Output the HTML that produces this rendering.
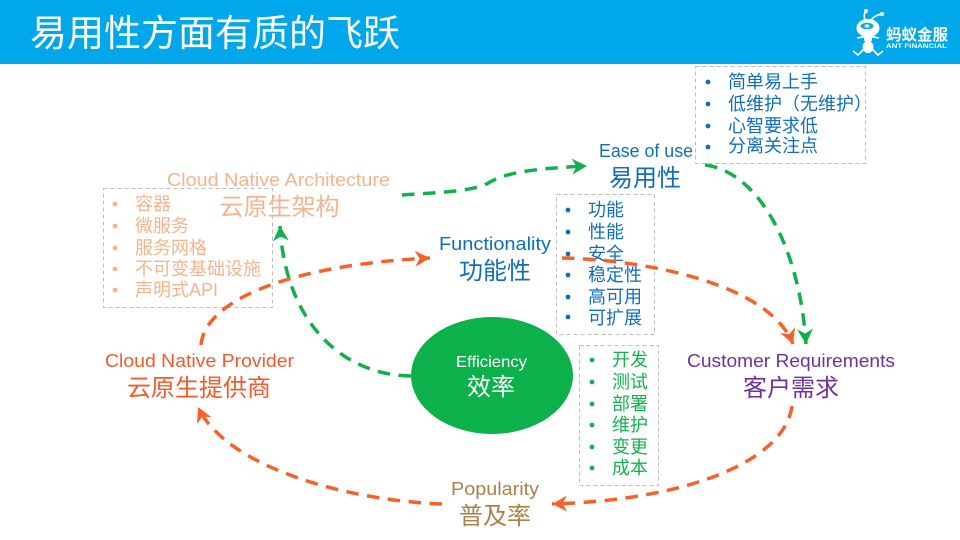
<!DOCTYPE html>
<html lang="zh">
<head>
<meta charset="utf-8">
<style>
html,body{margin:0;padding:0;background:#fff;width:960px;height:540px;overflow:hidden}
svg{display:block}
text{font-family:"Liberation Sans","Noto Sans CJK SC",sans-serif}
.cn{font-size:24px;text-anchor:middle}
.li{font-size:18px}
.box{fill:none;stroke:#bdbdbd;stroke-width:1;stroke-dasharray:4 3}
.g{fill:none;stroke:#10B14B;stroke-width:3.5;stroke-dasharray:12.5 8.5}
.o{fill:none;stroke:#F8602A;stroke-width:3.5;stroke-dasharray:12.5 8.5}
</style>
</head>
<body>
<svg width="960" height="540" viewBox="0 0 960 540" xmlns="http://www.w3.org/2000/svg">
<defs>
<marker id="ag" markerUnits="userSpaceOnUse" markerWidth="22" markerHeight="22" refX="17" refY="11" orient="auto"><path d="M17 11L2 3L6.5 11L2 19Z" fill="#10B14B"/></marker>
<marker id="ao" markerUnits="userSpaceOnUse" markerWidth="22" markerHeight="22" refX="17" refY="11" orient="auto"><path d="M17 11L2 3L6.5 11L2 19Z" fill="#F8602A"/></marker>
</defs>

<rect width="960" height="64" fill="#00A7EA"/>
<text x="30" y="46" font-size="37" fill="#fff" textLength="370" lengthAdjust="spacingAndGlyphs">易用性方面有质的飞跃</text>

<g fill="#fff" stroke="none">
<ellipse cx="868" cy="28" rx="11.5" ry="9"/>
<ellipse cx="867" cy="26" rx="6.5" ry="3.2" fill="#00A7EA"/>
<ellipse cx="867" cy="26" rx="2.4" ry="1.6"/>
<ellipse cx="868" cy="39" rx="4" ry="4"/>
<ellipse cx="868" cy="47" rx="5.5" ry="6"/>
<circle cx="866" cy="11" r="2"/><circle cx="882" cy="14" r="2"/>
</g>
<g stroke="#fff" stroke-width="1.7" fill="none">
<path d="M865 20Q863 15 866 11M871 20Q875 15 882 14"/>
<path d="M857 38L868 36L879 38M864 49L858 55L853 51M872 49L878 55L883 51"/>
</g>
<text x="886" y="40" font-size="15.5" font-weight="bold" fill="#fff" textLength="62" lengthAdjust="spacingAndGlyphs">蚂蚁金服</text>
<text x="886" y="48" font-size="6.5" font-weight="bold" fill="#fff" textLength="61" lengthAdjust="spacingAndGlyphs">ANT FINANCIAL</text>

<rect class="box" x="103.5" y="188.5" width="169" height="119"/>
<rect class="box" x="695.5" y="66.5" width="170" height="97"/>
<rect class="box" x="556.5" y="194.5" width="98" height="140"/>
<rect class="box" x="579.5" y="345.5" width="79" height="140"/>

<ellipse cx="492" cy="375.5" rx="81" ry="58.5" fill="#0DB14B"/>

<g fill="#F5B48C">
<text x="167" y="186" font-size="18" textLength="223" lengthAdjust="spacingAndGlyphs">Cloud Native Architecture</text>
<text x="279.5" y="215" class="cn">云原生架构</text>
<text x="135" y="210" class="li">容器</text>
<text x="135" y="232" class="li">微服务</text>
<text x="135" y="254" class="li">服务网格</text>
<text x="135" y="275" class="li">不可变基础设施</text>
<text x="135" y="296" class="li">声明式API</text>
<circle cx="115" cy="204" r="2.4"/><circle cx="115" cy="226" r="2.4"/><circle cx="115" cy="248" r="2.4"/><circle cx="115" cy="269" r="2.4"/><circle cx="115" cy="290" r="2.4"/>
</g>

<g fill="#0F6FBE">
<text x="599" y="157" font-size="18" textLength="94" lengthAdjust="spacingAndGlyphs">Ease of use</text>
<text x="645" y="186" class="cn">易用性</text>
<text x="728" y="88" class="li">简单易上手</text>
<text x="728" y="110" class="li">低维护（无维护）</text>
<text x="728" y="132" class="li">心智要求低</text>
<text x="728" y="152" class="li">分离关注点</text>
<circle cx="708" cy="82" r="2.4"/><circle cx="708" cy="104" r="2.4"/><circle cx="708" cy="126" r="2.4"/><circle cx="708" cy="147" r="2.4"/>

<text x="439" y="250" font-size="18" textLength="112" lengthAdjust="spacingAndGlyphs">Functionality</text>
<text x="495" y="279" class="cn">功能性</text>
<text x="588" y="216" class="li">功能</text>
<text x="588" y="238" class="li">性能</text>
<text x="588" y="260" class="li">安全</text>
<text x="588" y="281" class="li">稳定性</text>
<text x="588" y="303" class="li">高可用</text>
<text x="588" y="324" class="li">可扩展</text>
<circle cx="568" cy="210" r="2.4"/><circle cx="568" cy="232" r="2.4"/><circle cx="568" cy="254" r="2.4"/><circle cx="568" cy="275" r="2.4"/><circle cx="568" cy="297" r="2.4"/><circle cx="568" cy="317" r="2.4"/>
</g>

<g fill="#14B350">
<text x="612" y="366" class="li">开发</text>
<text x="612" y="388" class="li">测试</text>
<text x="612" y="410" class="li">部署</text>
<text x="612" y="431" class="li">维护</text>
<text x="612" y="453" class="li">变更</text>
<text x="612" y="474" class="li">成本</text>
<circle cx="592" cy="360" r="2.4"/><circle cx="592" cy="382" r="2.4"/><circle cx="592" cy="404" r="2.4"/><circle cx="592" cy="425" r="2.4"/><circle cx="592" cy="447" r="2.4"/><circle cx="592" cy="468" r="2.4"/>
</g>

<text x="456" y="367" font-size="16" fill="#fff" textLength="71" lengthAdjust="spacingAndGlyphs">Efficiency</text>
<text x="491" y="395" class="cn" fill="#fff">效率</text>

<text x="687" y="367" font-size="18" fill="#7030A0" textLength="208" lengthAdjust="spacingAndGlyphs">Customer Requirements</text>
<text x="791" y="396" class="cn" fill="#7030A0">客户需求</text>

<text x="105" y="367" font-size="18" fill="#F4592A" textLength="189" lengthAdjust="spacingAndGlyphs">Cloud Native Provider</text>
<text x="199" y="396" class="cn" fill="#F4592A">云原生提供商</text>

<text x="451" y="495" font-size="18" fill="#AE8048" textLength="88" lengthAdjust="spacingAndGlyphs">Popularity</text>
<text x="495" y="524" class="cn" fill="#AE8048">普及率</text>

<path class="g" marker-end="url(#ag)" d="M402 195C430 193 465 192 485 185C500 175 520 169 587 166"/>
<path class="g" marker-end="url(#ag)" d="M705 165C760 172 800 250 806 344"/>
<path class="g" marker-end="url(#ag)" d="M411 376C340 375 285 320 280 226"/>
<path class="o" marker-end="url(#ao)" d="M201 345C205 300 290 265 430 258"/>
<path class="o" marker-end="url(#ao)" d="M562 258C650 260 770 285 793 344"/>
<path class="o" marker-end="url(#ao)" d="M792 406C785 460 690 500 552 504"/>
<path class="o" marker-end="url(#ao)" d="M442 504C340 500 225 465 198 407"/>
</svg>
</body>
</html>
